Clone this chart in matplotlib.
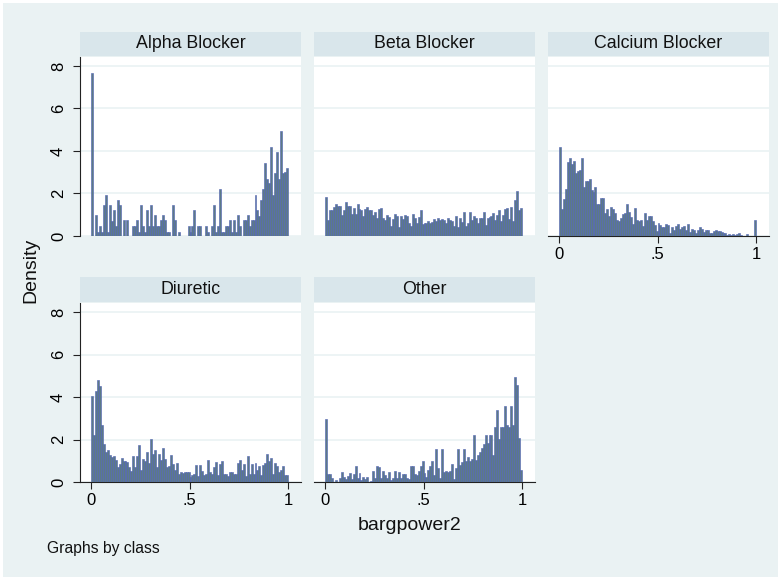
import numpy as np
import matplotlib
matplotlib.use("Agg")
import matplotlib.pyplot as plt
from matplotlib.patches import Rectangle

plt.rcParams['font.family'] = ['Liberation Sans', 'DejaVu Sans']

classes = ["Alpha Blocker", "Beta Blocker", "Calcium Blocker", "Diuretic", "Other"]

alpha = [7.65, 0, 0.97, 0.2, 0.45, 0.2, 1.45, 1.95, 0.2, 1.45,
         0.7, 1.2, 0.45, 1.7, 1.45, 0, 0.75, 0, 0.75, 0,
         0, 0.45, 0.45, 0.75, 0.2, 1.45, 0.45, 0.2, 1.2, 0.45,
         1.45, 0.45, 1.0, 0.45, 0.45, 0.75, 1.0, 0.75, 0.2, 0.2,
         0, 1.45, 0.75, 0, 0.2, 0, 0, 0, 0, 0.45,
         0.2, 0.45, 1.2, 0, 0.45, 0.45, 0, 0, 0.45, 0.2,
         0, 0.45, 1.45, 0.2, 0.45, 2.2, 0.2, 0.2, 0.45, 0.45,
         0.75, 0.2, 0.75, 0.2, 1.0, 0.45, 0, 0.75, 0.75, 1.0,
         0.45, 0.75, 0.75, 1.95, 1.2, 0.95, 1.7, 2.2, 3.45, 2.7,
         2.5, 4.2, 1.95, 2.95, 3.95, 2.7, 4.95, 2.95, 3.0, 3.2]

beta = [1.85, 0.75, 1.2, 1.2, 1.35, 1.5, 1.4, 1.4, 1.0, 1.2,
        1.6, 1.4, 1.4, 1.05, 1.3, 1.05, 1.5, 1.25, 1.2, 0.95,
        1.25, 1.35, 1.2, 1.2, 1.0, 1.15, 0.85, 1.25, 1.3, 0.85,
        0.75, 1.0, 0.9, 0.45, 0.8, 1.05, 0.95, 0.4, 0.95, 0.8,
        1.0, 0.95, 0.6, 0.45, 1.05, 0.85, 0.6, 0.9, 1.2, 0.55,
        0.6, 0.6, 0.7, 0.6, 0.65, 0.8, 0.7, 0.85, 0.75, 0.8,
        0.75, 0.6, 0.85, 0.75, 0.7, 0.45, 0.95, 0.4, 0.85, 0.65,
        1.15, 0.45, 0.6, 1.15, 0.75, 0.95, 0.85, 0.6, 0.85, 0.85,
        1.15, 0.5, 0.85, 0.9, 0.95, 1.1, 0.75, 1.0, 1.2, 0.7,
        1.0, 1.25, 1.3, 0.8, 1.35, 0.7, 1.7, 2.1, 1.2, 1.3]

calcium = [4.2, 1.25, 1.75, 2.2, 3.5, 3.65, 3.4, 3.55, 2.95, 3.05,
           3.1, 3.65, 2.3, 2.6, 2.6, 2.7, 2.15, 2.05, 2.3, 1.5,
           1.5, 1.8, 1.8, 1.1, 1.25, 0.95, 1.35, 1.25, 1.1, 0.75,
           0.7, 0.85, 1.05, 1.1, 1.5, 1.15, 0.9, 0.55, 1.3, 0.75,
           0.7, 0.75, 0.45, 1.1, 0.75, 0.95, 0.95, 0.7, 0.5, 0.25,
           0.6, 0.5, 0.4, 0.4, 0.55, 0.5, 0.15, 0.4, 0.3, 0.45,
           0.55, 0.35, 0.4, 0.45, 0.3, 0.55, 0.2, 0.35, 0.3, 0.15,
           0.3, 0.4, 0.35, 0.2, 0.3, 0.3, 0.15, 0.15, 0.25, 0.3,
           0.25, 0.25, 0.2, 0.15, 0.15, 0.05, 0.1, 0.05, 0.1, 0.05,
           0.1, 0.15, 0.05, 0, 0, 0.1, 0, 0, 0, 0.75]

diuretic = [4.05, 2.2, 4.3, 4.8, 4.5, 2.7, 1.8, 1.4, 1.5, 1.3,
            1.2, 1.25, 1.05, 0.7, 0.85, 1.15, 1.0, 1.0, 0.95, 0.7,
            0.55, 1.25, 0.7, 1.25, 1.75, 0.6, 1.1, 1.0, 1.4, 0.9,
            2.05, 1.35, 1.5, 0.7, 1.35, 1.05, 1.6, 1.1, 0.7, 0.75,
            1.3, 0.85, 0.6, 0.9, 0.4, 0.5, 0.45, 0.5, 0.5, 0.5,
            0.25, 0.35, 0.4, 0.8, 0.3, 0.8, 0.55, 0.35, 0.4, 1.05,
            0.5, 0.4, 0.7, 0.95, 0.35, 0.85, 1.0, 0.4, 0.4, 0.3,
            0.5, 0.5, 0.4, 0.4, 0.9, 1.05, 0.6, 0.85, 0.3, 1.25,
            0.4, 0.85, 0.4, 0.9, 0.6, 0.75, 0.35, 0.8, 0.9, 1.35,
            1.0, 1.15, 0.4, 0.9, 0.75, 0.5, 0.6, 0.75, 0.35, 0.35]

other = [2.95, 0.4, 0.4, 0.2, 0, 0.1, 0, 0.2, 0.5, 0.25,
         0.15, 0.3, 0.45, 0.15, 0.4, 0.75, 0.2, 0.45, 0.1, 0.25,
         0.15, 0.25, 0, 0.05, 0.55, 0.2, 0.75, 0.7, 0.2, 0.55,
         0.35, 0.2, 0.5, 0.1, 0.2, 0.55, 0.2, 0.5, 0.2, 0.4,
         0.4, 0.2, 0.15, 0.75, 0.75, 0.4, 0.35, 0.55, 0.75, 1.0,
         0.45, 0.25, 0.6, 0.75, 1.0, 0.35, 1.55, 0.65, 0.2, 1.55,
         0.5, 0.55, 0.5, 0.55, 0.85, 0.15, 0.65, 1.55, 0.8, 0.95,
         1.55, 1.0, 1.2, 1.0, 1.1, 2.2, 1.05, 1.3, 1.4, 1.6,
         1.8, 2.2, 1.85, 2.2, 2.2, 1.3, 2.6, 3.4, 2.05, 2.6,
         2.6, 3.6, 2.7, 2.6, 3.6, 2.7, 4.95, 4.55, 2.1, 0.6]

series = [alpha, beta, calcium, diuretic, other]
yticks = [0, 2, 4, 6, 8]
xticks = [0, 0.5, 1]
xticklabels = ["0", ".5", "1"]

W, H = 781, 580
BG = "#eaf2f3"
STRIP = "#d9e6eb"
GRID = "#eaf2f3"
FACE = "#5c7a86"
EDGE = "#4d60b4"

fig = plt.figure(figsize=(W / 100, H / 100), dpi=100)
fig.patch.set_facecolor("white")
fig.patches.append(Rectangle((3 / W, 3 / H), (W - 6) / W, (H - 6) / H,
                             transform=fig.transFigure, facecolor=BG,
                             edgecolor="none", zorder=-10))

cols = [(80, 301), (314, 535), (548, 769)]
rows = [(57, 236, 32), (303, 482.3, 277)]  # top, bottom(y=0), strip top

def px_axes(x0, x1, ytop, ybot):
    return [x0 / W, 1 - ybot / H, (x1 - x0) / W, (ybot - ytop) / H]

for i, (name, vals) in enumerate(zip(classes, series)):
    r, c = divmod(i, 3)
    x0, x1 = cols[c]
    ytop, ybot, stop = rows[r]
    ax = fig.add_axes(px_axes(x0, x1, ytop, ybot))
    ax.set_facecolor("white")
    n = len(vals)
    edges = np.linspace(0, 1, n + 1)
    ax.bar(edges[:-1], vals, width=1 / n, align="edge", color=FACE,
           edgecolor=EDGE, linewidth=0.4, zorder=3)
    ax.set_xlim(-0.056, 1.066)
    ax.set_ylim(0, 8.42)
    for yv in yticks:
        ax.axhline(yv, color=GRID, lw=1.2, zorder=1)
    for s in ax.spines.values():
        s.set_visible(False)
    if c == 0:
        ax.spines["left"].set_visible(True)
        ax.spines["left"].set_color("#222222")
        ax.spines["left"].set_linewidth(0.8)
        ax.set_yticks(yticks)
        ax.set_yticklabels([str(v) for v in yticks], rotation=90, va="center",
                           fontsize=12)
        ax.tick_params(axis="y", length=5, width=0.8, color="#222222", pad=5)
    else:
        ax.set_yticks([])
    if i >= 2:
        ax.spines["bottom"].set_visible(True)
        ax.spines["bottom"].set_color("#222222")
        ax.spines["bottom"].set_linewidth(0.8)
        ax.set_xticks(xticks)
        ax.set_xticklabels(xticklabels, fontsize=12)
        ax.tick_params(axis="x", length=5, width=0.8, color="#222222", pad=3)
    else:
        ax.set_xticks([])
    sax = fig.add_axes(px_axes(x0, x1, stop, ytop - 1.5))
    sax.set_facecolor(STRIP)
    sax.set_xticks([]); sax.set_yticks([])
    for s in sax.spines.values():
        s.set_visible(False)
    sax.text(0.5, 0.5, name, ha="center", va="center", fontsize=12.8,
             color="#111111", transform=sax.transAxes)

fig.text(31 / W, 1 - 270 / H, "Density", rotation=90, ha="center", va="center",
         fontsize=14, color="#111111")
fig.text(410 / W, 1 - 526 / H, "bargpower2", ha="center", va="center",
         fontsize=14, color="#111111")
fig.text(47 / W, 1 - 548 / H, "Graphs by class", ha="left", va="center",
         fontsize=11.3, color="#111111")

fig.savefig("out.png", dpi=100, facecolor=fig.get_facecolor())
